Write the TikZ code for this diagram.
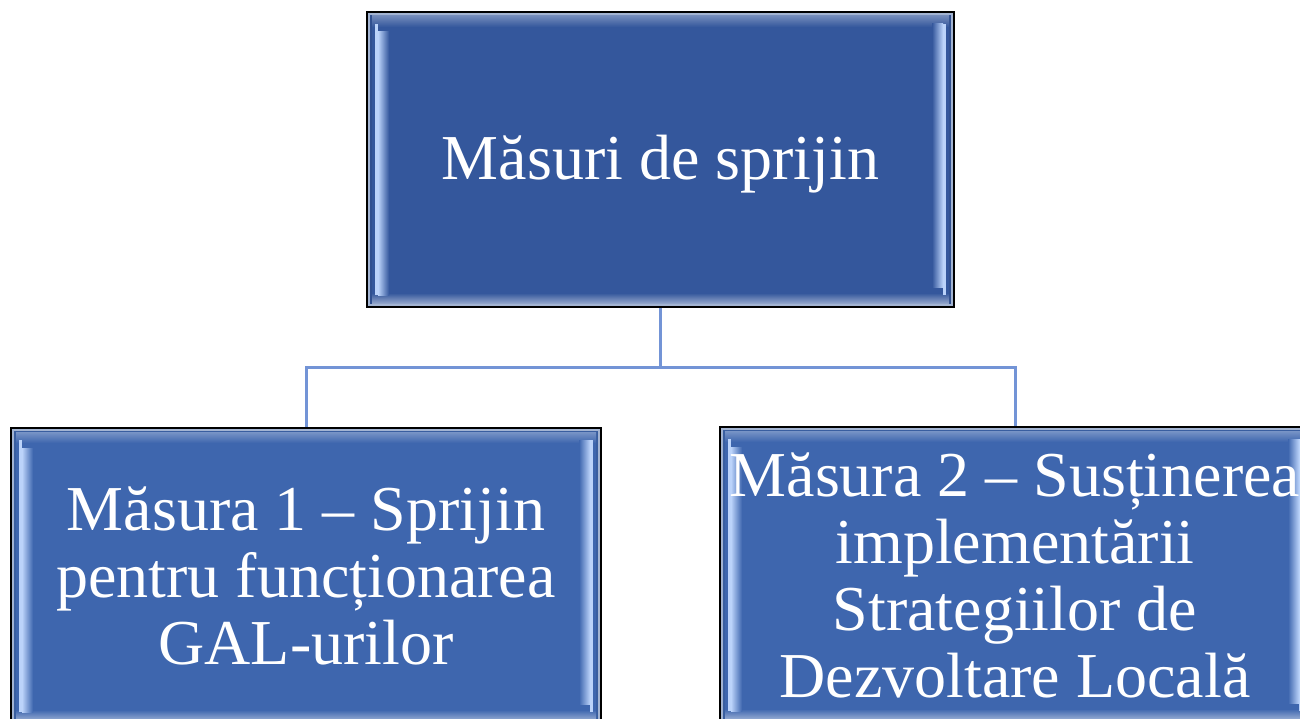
\documentclass[tikz,border=0pt]{standalone}
\usepackage{fontspec}
\setmainfont{Liberation Serif}
\usetikzlibrary{calc}
\definecolor{topfill}{HTML}{34579C}
\definecolor{subfill}{HTML}{3E66AE}
\definecolor{hl}{HTML}{BBD3FA}
\definecolor{rim}{HTML}{A3B4D2}
\definecolor{conn}{HTML}{7394D6}
\tikzset{
  x=1pt, y=-1pt,
  connector/.style={draw=conn, line width=3pt},
  bevel/.style={draw=black, line width=1.6pt, fill=#1, text=white, align=center,
    inner sep=0pt, font=\fontsize{64}{67}\selectfont,
    path picture={
      \coordinate (sw) at (path picture bounding box.south west);
      \coordinate (ne) at (path picture bounding box.north east);
      \coordinate (nw) at (sw |- ne);
      \coordinate (se) at (ne |- sw);
      \fill[rim] (sw) rectangle (ne);
      \fill[#1!92!black] ([xshift=3pt,yshift=3pt]sw) rectangle ([xshift=-3pt,yshift=-3pt]ne);
      \fill[#1] ([xshift=5pt,yshift=5pt]sw) rectangle ([xshift=-5pt,yshift=-5pt]ne);
      \shade[top color=#1!70!white, bottom color=#1] ([xshift=5pt,yshift=-4pt]nw) rectangle ([xshift=-5pt,yshift=-15pt]ne);
      \shade[bottom color=#1!55!white, top color=#1] ([xshift=5pt,yshift=4pt]sw) rectangle ([xshift=-5pt,yshift=14pt]se);
      \fill[hl] ([xshift=8pt,yshift=12pt]sw) rectangle ([xshift=11pt,yshift=-12pt]nw);
      \shade[left color=hl, right color=#1] ([xshift=11pt,yshift=12pt]sw) rectangle ([xshift=22pt,yshift=-20pt]nw);
      \fill[hl] ([xshift=-8pt,yshift=12pt]se) rectangle ([xshift=-11pt,yshift=-12pt]ne);
      \shade[right color=hl, left color=#1] ([xshift=-11pt,yshift=20pt]se) rectangle ([xshift=-22pt,yshift=-12pt]ne);
    }},
}
\begin{document}
\begin{tikzpicture}
\useasboundingbox (0,0) rectangle (1300,719);
\clip (0,0) rectangle (1300,719);
\fill[white] (0,0) rectangle (1300,719);
\node[bevel=topfill, minimum width=587pt, minimum height=295pt] (top) at (660.5,159.5) {\raisebox{0pt}[\dimexpr\height+10pt\relax][\depth]{Măsuri de sprijin}};
\node[bevel=subfill, minimum width=590pt, minimum height=296pt] (m1) at (306,576) {Măsura 1 – Sprijin\\pentru funcționarea\\GAL-urilor};
\node[bevel=subfill, minimum width=590pt, minimum height=296pt] (m2) at (1015,575) {Măsura 2 – Susținerea\\implementării\\Strategiilor de\\Dezvoltare Locală};
\draw[connector] (top.south) -- ++(0,60) coordinate (j);
\draw[connector] (m1.north) |- (j) -| (m2.north);
\end{tikzpicture}
\end{document}
